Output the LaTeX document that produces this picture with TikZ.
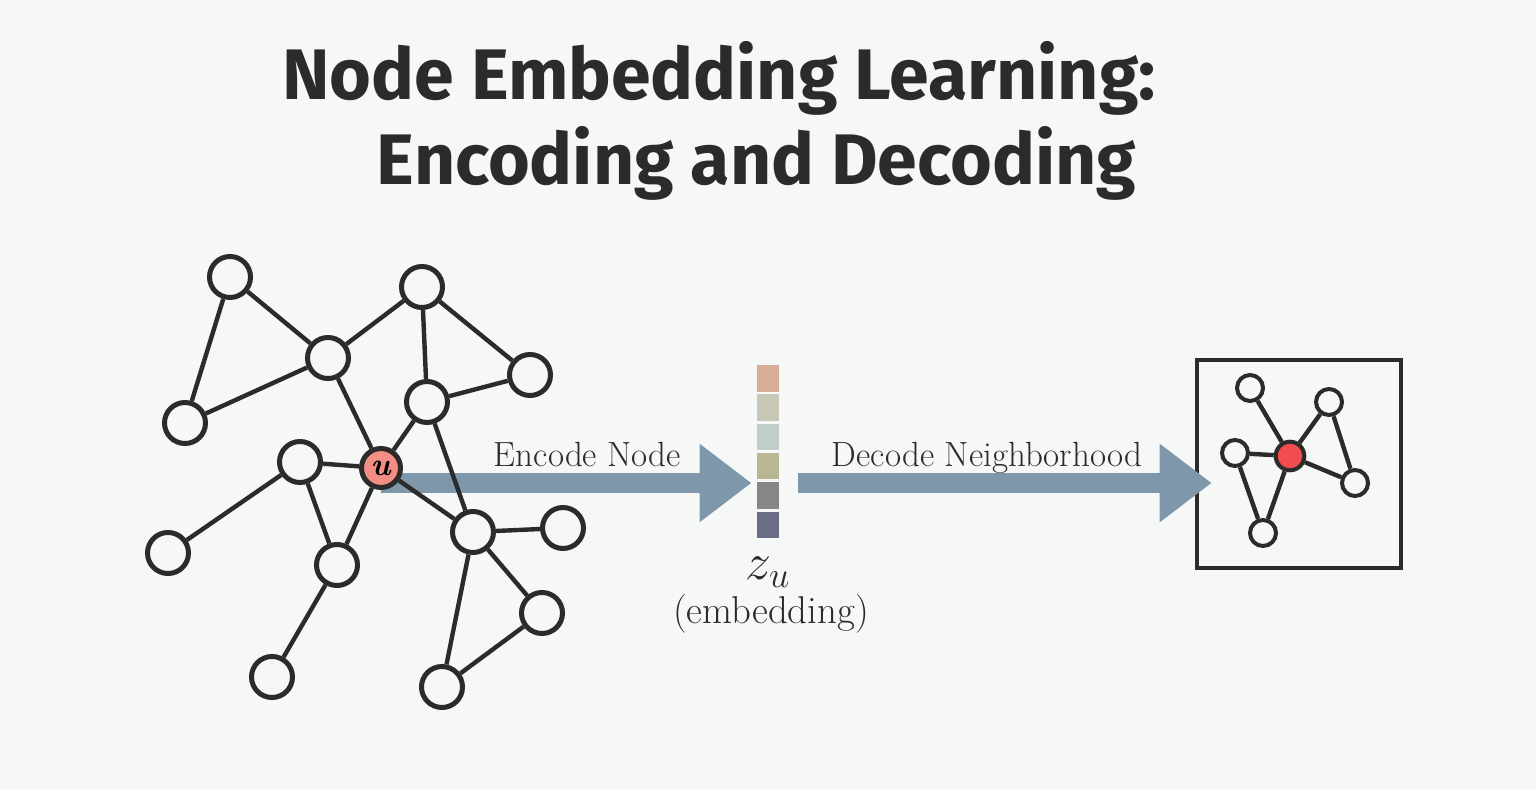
\RequirePackage{fix-cm}
\documentclass[tikz,border=0pt]{standalone}
\usepackage{fontspec}
\newfontfamily\titlefont{Fira Sans}
\usetikzlibrary{arrows.meta}
\pgfdeclarelayer{bg}
\pgfsetlayers{bg,main}
\definecolor{bgcol}{RGB}{246,247,247}
\definecolor{ink}{RGB}{43,43,43}
\definecolor{flowcol}{RGB}{127,151,170}
\definecolor{ucol}{RGB}{242,142,134}
\definecolor{redcol}{RGB}{242,75,80}
\definecolor{emba}{RGB}{217,174,152}
\definecolor{embb}{RGB}{201,200,183}
\definecolor{embc}{RGB}{191,205,203}
\definecolor{embd}{RGB}{183,183,148}
\definecolor{embe}{RGB}{134,134,134}
\definecolor{embf}{RGB}{107,111,133}
\tikzset{
  gnode/.style={circle,draw=ink,line width=2.5pt,fill=bgcol,minimum size=20.5pt,inner sep=0pt},
  snode/.style={circle,draw=ink,line width=2pt,fill=bgcol,minimum size=13pt,inner sep=0pt},
  gedge/.style={draw=ink,line width=2.2pt},
  flow/.style={draw=flowcol,line width=10pt,-{Triangle[length=26pt,width=37.5pt]}},
  cell/.style={minimum width=10.85pt,minimum height=13.25pt,inner sep=0pt}
}

\begin{document}
\begin{tikzpicture}[x=0.5pt,y=0.5pt,yscale=-1,xscale=1]
	\useasboundingbox (0,0) rectangle (1536,790);
	\begin{pgfonlayer}{bg}
	\fill[bgcol] (0,0) rectangle (1536,790);
	\end{pgfonlayer}
	
	% Title
	\node [anchor=base,text=ink,inner sep=0pt] (title1) at (719,100) {\titlefont\bfseries\fontsize{35.8}{43}\selectfont Node Embedding Learning:};
	\node [anchor=base,text=ink,inner sep=0pt] (title2) at (756.5,185) {\titlefont\bfseries\fontsize{35.8}{43}\selectfont Encoding and Decoding};
	
	%Shape: Circle (input graph)
	\node [gnode] (v1) at (230,277) {};
	\node [gnode] (v2) at (422,287) {};
	\node [gnode] (v3) at (328,358) {};
	\node [gnode] (v4) at (530,375) {};
	\node [gnode] (v5) at (185,423) {};
	\node [gnode] (v6) at (427,402) {};
	\node [gnode] (v7) at (300,462) {};
	\node [gnode,fill=ucol,minimum size=19.5pt] (u) at (381,468) {\fontsize{16}{16}\selectfont\textbf{\textit{u}}};
	\node [gnode] (v8) at (473,532) {};
	\node [gnode] (v9) at (563,528) {};
	\node [gnode] (v10) at (168,553) {};
	\node [gnode] (v11) at (337,565) {};
	\node [gnode] (v12) at (542,613) {};
	\node [gnode] (v13) at (272,677) {};
	\node [gnode] (v14) at (442,687) {};
	
	%Straight Lines (input graph)
	\draw [gedge] (v1) -- (v3);
	\draw [gedge] (v1) -- (v5);
	\draw [gedge] (v3) -- (v5);
	\draw [gedge] (v3) -- (v2);
	\draw [gedge] (v2) -- (v6);
	\draw [gedge] (v2) -- (v4);
	\draw [gedge] (v4) -- (v6);
	\draw [gedge] (v3) -- (u);
	\draw [gedge] (v6) -- (u);
	\draw [gedge] (v6) -- (v8);
	\draw [gedge] (v7) -- (u);
	\draw [gedge] (v7) -- (v10);
	\draw [gedge] (v7) -- (v11);
	\draw [gedge] (v11) -- (u);
	\draw [gedge] (u) -- (v8);
	\draw [gedge] (v8) -- (v9);
	\draw [gedge] (v8) -- (v14);
	\draw [gedge] (v8) -- (v12);
	\draw [gedge] (v12) -- (v14);
	\draw [gedge] (v11) -- (v13);
	
	%Shape: Rectangle (embedding)
	\node [cell,fill=emba] (cell0) at (768,378.3) {};
	\node [cell,fill=embb] (cell1) at (768,407.6) {};
	\node [cell,fill=embc] (cell2) at (768,436.9) {};
	\node [cell,fill=embd] (cell3) at (768,466.2) {};
	\node [cell,fill=embe] (cell4) at (768,495.5) {};
	\node [cell,fill=embf] (cell5) at (768,524.8) {};
	
	%Encode arrow
	\coordinate (encto) at (751.5,483);
	\begin{pgfonlayer}{bg}
	\draw [flow] (u.center |- encto) -- (encto);
	\end{pgfonlayer}
	
	%Shape: Rectangle (neighbourhood)
	\node [draw=ink,line width=2pt,minimum width=102pt,minimum height=104pt,inner sep=0pt] (rbox) at (1298.7,464.2) {};
	\node [snode] (w1) at (1250,388) {};
	\node [snode] (w2) at (1329,402) {};
	\node [snode] (w3) at (1235,453) {};
	\node [snode,fill=redcol,minimum size=14.3pt] (c) at (1290,456) {};
	\node [snode] (w4) at (1355,483) {};
	\node [snode] (w5) at (1263,533) {};
	\draw [gedge] (w1) -- (c);
	\draw [gedge] (w3) -- (c);
	\draw [gedge] (c) -- (w2);
	\draw [gedge] (w2) -- (w4);
	\draw [gedge] (c) -- (w4);
	\draw [gedge] (w3) -- (w5);
	\draw [gedge] (c) -- (w5);
	
	%Decode arrow
	\coordinate (decfrom) at (797.7,483);
	\coordinate (decto) at (1211.7,483);
	\draw [flow] (decfrom) -- (decto);
	
	% Text Node
	\node [anchor=base,text=ink,inner sep=0pt] (enclabel) at (587.5,467) {\fontsize{17.5}{20}\selectfont Encode Node};
	% Text Node
	\node [anchor=base,text=ink,inner sep=0pt] (declabel) at (987,467) {\fontsize{17.5}{20}\selectfont Decode Neighborhood};
	% Text Node
	\node [anchor=base,text=ink,inner sep=0pt] (zu) at (768,580) {\fontsize{26}{30}\selectfont $z_u$};
	% Text Node
	\node [anchor=base,text=ink,inner sep=0pt] (emblabel) at (771,623) {\fontsize{19.4}{23}\selectfont (embedding)};
	
\end{tikzpicture}
\end{document}
